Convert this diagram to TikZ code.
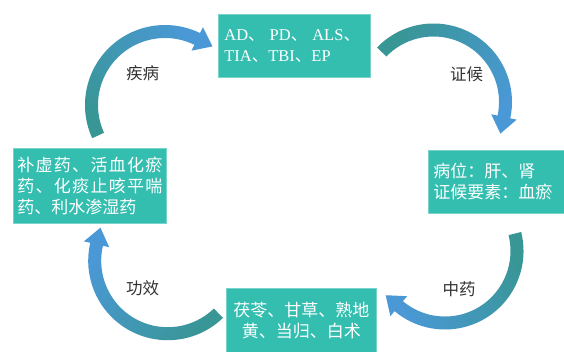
\documentclass[tikz,border=0pt]{standalone}
\usepackage{fontspec}
\setmainfont{Liberation Serif}
\newfontfamily\cjk{Noto Sans CJK SC}
\usetikzlibrary{calc}
\definecolor{boxteal}{RGB}{52,190,176}
\definecolor{boxedge}{RGB}{120,212,202}
\definecolor{arrteal}{RGB}{56,150,148}
\definecolor{arrblue}{RGB}{74,152,214}
\definecolor{lblgray}{RGB}{51,51,51}
\newcommand{\dun}{{\cjk 、}}
% #1 centre coordinate, #2 radius, #3 tail angle, #4 head angle, #5 shading angle
\newcommand{\cycarrow}[5]{%
  \pgfmathsetmacro\cyRo{#2+6.5}%
  \pgfmathsetmacro\cyRi{#2-6.5}%
  \pgfmathsetmacro\cyHo{#2+13}%
  \pgfmathsetmacro\cyHi{#2-13}%
  \path[arrowshade, shading angle=#5]
    ($(#1)+(#3:\cyRo pt)$) arc[start angle=#3, end angle=#4, radius=\cyRo pt]
    -- ($(#1)+(#4:\cyHo pt)$)
    -- ($(#1)+(#4:#2 pt)+(#4-90:17pt)$)
    -- ($(#1)+(#4:\cyHi pt)$)
    -- ($(#1)+(#4:\cyRi pt)$)
    arc[start angle=#4, end angle=#3, radius=\cyRi pt]
    -- cycle;
}
\begin{document}
\begin{tikzpicture}[x=1pt, y=1pt,
  box/.style={fill=boxteal, draw=boxedge, line width=0.8pt, text=white,
    anchor=north west, inner ysep=0pt, align=left},
  boxfont/.style={font=\cjk\fontsize{17}{21}\selectfont},
  lbl/.style={text=lblgray, font=\cjk\fontsize{16.5}{20}\selectfont, inner sep=0pt},
  arrowshade/.style={top color=arrblue, bottom color=arrteal}]
\fill[white] (0,0) rectangle (564,-351);
\useasboundingbox (0,0) rectangle (564,-351);

% arrow centres
\coordinate (c1) at (165,-105);
\coordinate (c2) at (433.5,-102);
\coordinate (c3) at (445,-251);
\coordinate (c4) at (167.7,-260.7);

\cycarrow{c1}{73.5}{204.5}{64}{-52}
\cycarrow{c2}{72}{136}{-12}{-124.6}
\cycarrow{c3}{72}{14}{-130}{115.5}
\cycarrow{c4}{73}{-46}{-193}{54}

% boxes
\node[box, font=\fontsize{16.5}{21}\selectfont, text width=140pt, inner xsep=6pt,
  minimum height=63pt] (dis) at (218,-14)
  {AD\dun\hspace{5pt}PD\dun\hspace{5pt}ALS\dun\\TIA\dun TBI\dun EP};
\node[box, boxfont, text width=126pt, inner xsep=5pt, minimum height=63pt] (syn) at (428,-150)
  {病位：肝、肾\\证候要素：血瘀};
\node[box, boxfont, text width=140pt, inner xsep=5pt, minimum height=64pt, align=center] (herb) at (226,-288)
  {茯苓、甘草、熟地\\黄、当归、白术};
\node[box, boxfont, text width=145pt, inner xsep=4pt, minimum height=75pt] (eff) at (13,-148)
  {补\hfill 虚\hfill 药\hfill 、\hfill 活\hfill 血\hfill 化\hfill 瘀\\
   药\hfill 、\hfill 化\hfill 痰\hfill 止\hfill 咳\hfill 平\hfill 喘\\
   药、利水渗湿药};

% labels
\node[lbl] (l1) at (142.5,-73) {疾病};
\node[lbl] (l2) at (466.7,-74) {证候};
\node[lbl] (l3) at (459,-289) {中药};
\node[lbl] (l4) at (142.5,-288) {功效};
\end{tikzpicture}
\end{document}
